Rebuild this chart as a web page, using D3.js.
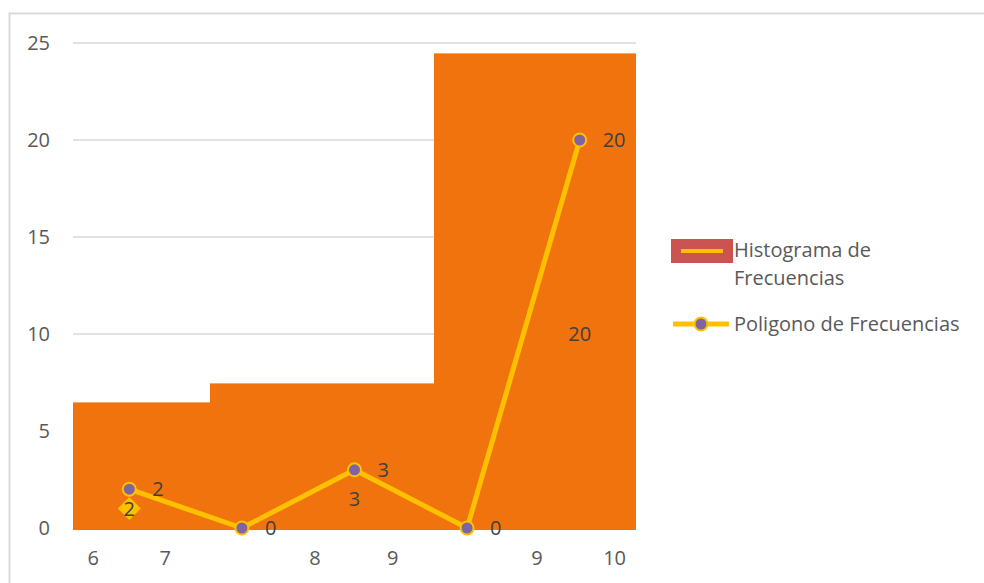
<!DOCTYPE html>
<html>
<head>
<meta charset="utf-8">
<script src="https://cdn.jsdelivr.net/npm/d3@7"></script>
<style>
  body { margin: 0; background: #fff; }
  svg { display: block; }
  text { font-family: "Open Sans", sans-serif; }
</style>
</head>
<body>
<svg id="chart" width="984" height="583"></svg>
<script>
// Frequency polygon: one point per class
const categories = ["A", "B", "C", "D", "E"];
const polygonValues = [2, 0, 3, 0, 20];

// Histogram bins (edges measured in class-width units) and their heights
const histEdges = [0, 1.22, 3.21, 5];
const histValues = [6.5, 7.5, 24.5];

// Labels printed inside the histogram, with the class each belongs to
const histLabelCats = ["A", "C", "E"];
const histLabelValues = [2, 3, 20];

// Category axis labels and where they sit (class-width units)
const xTickLabels = ["6", "7", "8", "9", "9", "10"];
const xTickPos = [0.18, 0.82, 2.15, 2.84, 4.12, 4.81];

const yTicks = [0, 5, 10, 15, 20, 25];

const legendNames = ["Histograma de Frecuencias", "Poligono de Frecuencias"];

const svg = d3.select("#chart");
const plot = { left: 73, right: 636, top: 43, bottom: 528 };

const y = d3.scaleLinear().domain([0, 25]).range([plot.bottom, plot.top]);
const xBand = d3.scaleBand().domain(categories).range([plot.left, plot.right]).padding(0);
const xUnit = d3.scaleLinear().domain([0, categories.length]).range([plot.left, plot.right]);
const cx = c => xBand(c) + xBand.bandwidth() / 2;

// Outer frame
svg.append("path")
  .attr("d", "M9.5,583 V13.5 H984")
  .attr("fill", "none")
  .attr("stroke", "#D9D9D9")
  .attr("stroke-width", 2);

// Gridlines
svg.append("g")
  .selectAll("line")
  .data(yTicks.filter(d => d > 0))
  .join("line")
  .attr("x1", plot.left).attr("x2", plot.right)
  .attr("y1", d => y(d)).attr("y2", d => y(d))
  .attr("stroke", "#D9D9D9")
  .attr("stroke-width", 1.5);

// Y axis labels
const yAxis = d3.axisLeft(y).tickValues(yTicks).tickSize(0).tickPadding(0).tickFormat(d3.format("d"));
const gy = svg.append("g").attr("transform", "translate(50,0)").call(yAxis);
gy.select(".domain").remove();
gy.selectAll("text")
  .attr("font-family", "Open Sans, sans-serif")
  .attr("font-size", 20)
  .attr("fill", "#595959");

// Histogram bars (edges snapped to whole pixels so neighbours meet cleanly)
const bins = histValues.map((v, i) => ({ x0: histEdges[i], x1: histEdges[i + 1], v }));
const px = v => Math.round(xUnit(v));
const barG = svg.append("g").attr("shape-rendering", "crispEdges");
barG.selectAll("rect")
  .data(bins)
  .join("rect")
  .attr("x", d => px(d.x0))
  .attr("width", d => px(d.x1) - px(d.x0))
  .attr("y", d => y(d.v))
  .attr("height", d => y(0) - y(d.v) + 1.5)
  .attr("fill", "#F0730E");
barG.selectAll("line")
  .data(bins)
  .join("line")
  .attr("x1", d => px(d.x0)).attr("x2", d => px(d.x1))
  .attr("y1", d => y(d.v) + 0.5).attr("y2", d => y(d.v) + 0.5)
  .attr("stroke", "#F5A868")
  .attr("stroke-width", 1);

// X axis labels
const gx = svg.append("g");
gx.selectAll("text")
  .data(xTickLabels)
  .join("text")
  .attr("x", (d, i) => xUnit(xTickPos[i]))
  .attr("y", 565)
  .attr("text-anchor", "middle")
  .attr("font-size", 20)
  .attr("fill", "#595959")
  .text(d => d);

// Labels inside the histogram (centred at half height)
const hl = histLabelCats.map((c, i) => ({ c, v: histLabelValues[i] }));
svg.append("path")
  .attr("d", () => {
    const mx = cx(hl[0].c), my = y(hl[0].v / 2);
    return `M${mx},${my - 11.5} L${mx + 11.5},${my} L${mx},${my + 11.5} L${mx - 11.5},${my} Z`;
  })
  .attr("fill", "#FFC000");
svg.append("g")
  .selectAll("text")
  .data(hl)
  .join("text")
  .attr("x", d => cx(d.c))
  .attr("y", d => y(d.v / 2) + 7)
  .attr("text-anchor", "middle")
  .attr("font-size", 20)
  .attr("fill", "#404040")
  .text(d => d.v);

// Frequency polygon
const pts = categories.map((c, i) => ({ c, v: polygonValues[i] }));
svg.append("path")
  .datum(pts)
  .attr("d", d3.line().x(d => cx(d.c)).y(d => y(d.v)))
  .attr("fill", "none")
  .attr("stroke", "#FFC000")
  .attr("stroke-width", 5)
  .attr("stroke-linejoin", "round");
svg.append("g")
  .selectAll("circle")
  .data(pts)
  .join("circle")
  .attr("cx", d => cx(d.c))
  .attr("cy", d => y(d.v))
  .attr("r", 6.5)
  .attr("fill", "#8064A2")
  .attr("stroke", "#FFC000")
  .attr("stroke-width", 2);
svg.append("g")
  .selectAll("text")
  .data(pts)
  .join("text")
  .attr("x", d => cx(d.c) + 23)
  .attr("y", d => y(d.v) + 7)
  .attr("font-size", 20)
  .attr("fill", "#404040")
  .text(d => d.v);

// Legend
const lg = svg.append("g");
lg.append("rect")
  .attr("x", 671).attr("y", 239).attr("width", 62).attr("height", 24)
  .attr("fill", "#CD5350");
lg.append("line")
  .attr("x1", 681).attr("x2", 723).attr("y1", 251).attr("y2", 251)
  .attr("stroke", "#FFC000").attr("stroke-width", 4);
const words = legendNames[0].split(" ");
lg.append("text")
  .attr("x", 734).attr("y", 257)
  .attr("font-size", 20).attr("fill", "#595959")
  .text(words.slice(0, 2).join(" "));
lg.append("text")
  .attr("x", 734).attr("y", 285)
  .attr("font-size", 20).attr("fill", "#595959")
  .text(words.slice(2).join(" "));
lg.append("line")
  .attr("x1", 673).attr("x2", 729).attr("y1", 324).attr("y2", 324)
  .attr("stroke", "#FFC000").attr("stroke-width", 5);
lg.append("circle")
  .attr("cx", 701).attr("cy", 324).attr("r", 6.5)
  .attr("fill", "#8064A2").attr("stroke", "#FFC000").attr("stroke-width", 2);
lg.append("text")
  .attr("x", 734).attr("y", 331)
  .attr("font-size", 20).attr("fill", "#595959")
  .text(legendNames[1]);
</script>
</body>
</html>
